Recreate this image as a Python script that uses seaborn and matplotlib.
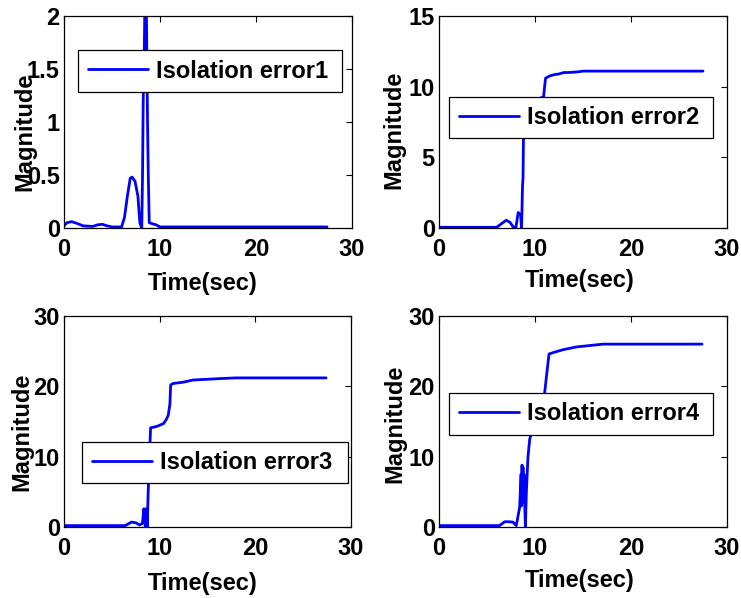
import numpy as np
import pandas as pd
import matplotlib
matplotlib.use("Agg")
import matplotlib.pyplot as plt
import seaborn as sns

# ---- data ----
t1 = [0, 0.3, 0.8, 1.3, 2.0, 3.0, 3.5, 4.0, 4.5, 5.0, 6.0, 6.3, 6.6, 6.9, 7.1, 7.4, 7.7, 7.9, 8.1,
      8.18, 8.25, 8.35, 8.5, 8.6, 8.7, 8.78, 8.88, 9.2, 9.6, 10.0, 15, 20, 27.4]
v1 = [0.02, 0.05, 0.06, 0.045, 0.02, 0.015, 0.03, 0.035, 0.02, 0.01, 0.01, 0.1, 0.3, 0.47, 0.48, 0.44,
      0.3, 0.05, 0.0, 0.5, 1.2, 1.6, 2.6, 1.9, 1.0, 0.5, 0.05, 0.04, 0.03, 0.01, 0.01, 0.01, 0.01]

t2 = [0, 3, 6.0, 6.5, 7.0, 7.4, 7.7, 8.0, 8.25, 8.5, 8.6, 8.7, 8.75, 8.8, 9.0, 10.0, 10.9, 11.0, 11.1,
      11.5, 12.0, 12.5, 13.0, 13.5, 14.5, 15.0, 20, 27.5]
v2 = [0.05, 0.05, 0.05, 0.3, 0.55, 0.4, 0.1, 0.0, 1.1, 0.9, 0.0, 3.0, 3.5, 6.5, 8.8, 9.0, 9.3, 10.0,
      10.6, 10.75, 10.85, 10.9, 11.0, 11.0, 11.05, 11.1, 11.1, 11.1]

t3 = [0, 3, 6.4, 6.8, 7.05, 7.5, 7.9, 8.2, 8.35, 8.5, 8.6, 8.7, 8.8, 9.05, 9.7, 10.4, 10.7, 10.9, 11.07,
      11.15, 11.4, 12.5, 13.5, 14.9, 16.3, 18, 27.4]
v3 = [0.2, 0.2, 0.2, 0.5, 0.7, 0.6, 0.3, 0.5, 2.6, 0.1, 2.6, 0.0, 5.0, 14.1, 14.3, 14.7, 15.3, 15.9,
      17.5, 20.2, 20.4, 20.6, 20.9, 21.0, 21.1, 21.2, 21.2]

t4 = [0, 3, 6.3, 6.6, 6.85, 7.2, 7.7, 8.05, 8.4, 8.55, 8.6, 8.65, 8.7, 8.75, 8.8, 8.85, 8.9, 9.0, 9.1,
      9.27, 9.45, 10.2, 11.0, 11.2, 11.46, 11.9, 12.9, 14.3, 15.7, 17.1, 27.4]
v4 = [0.2, 0.2, 0.2, 0.5, 0.75, 0.75, 0.7, 0.2, 2.8, 7.5, 3.0, 8.8, 4.0, 8.5, 3.5, 7.5, 4.5, 0.0, 5.0,
      10.0, 12.5, 16.0, 19.0, 21.5, 24.6, 24.8, 25.2, 25.6, 25.8, 26.0, 26.0]

series_labels = ["Isolation error1", "Isolation error2", "Isolation error3", "Isolation error4"]
x_ticks = [0, 10, 20, 30]
y_ticks = [[0, 0.5, 1, 1.5, 2], [0, 5, 10, 15], [0, 10, 20, 30], [0, 10, 20, 30]]
y_ticklabels = [["0", "0.5", "1", "1.5", "2"], ["0", "5", "10", "15"],
                ["0", "10", "20", "30"], ["0", "10", "20", "30"]]
x_label = "Time(sec)"
y_label = "Magnitude"

# ---- style ----
sns.set_theme(style="white")
plt.rcParams["font.family"] = ["Liberation Sans", "DejaVu Sans"]
plt.rcParams["font.weight"] = "bold"
plt.rcParams["axes.labelweight"] = "bold"
plt.rcParams["text.color"] = "black"
plt.rcParams["axes.labelcolor"] = "black"
plt.rcParams["xtick.color"] = "black"
plt.rcParams["ytick.color"] = "black"
plt.rcParams["xtick.labelcolor"] = "black"
plt.rcParams["ytick.labelcolor"] = "black"
FS = 17

fig = plt.figure(figsize=(7.41, 5.98), dpi=100)
rects = [
    (64 / 741, 1 - 228 / 598, 288 / 741, 212 / 598),
    (439 / 741, 1 - 228 / 598, 288 / 741, 212 / 598),
    (64 / 741, 1 - 527 / 598, 287 / 741, 211 / 598),
    (439 / 741, 1 - 527 / 598, 288 / 741, 211 / 598),
]
legend_boxes = [
    (0.049, 0.646, 0.916, 0.189),
    (0.035, 0.429, 0.916, 0.184),
    (0.063, 0.213, 0.927, 0.185),
    (0.035, 0.445, 0.916, 0.185),
]
ylabel_coords = [(-0.097, 0.453), (-0.118, 0.462), (-0.108, 0.45), (-0.115, 0.488)]
xlabel_coords = [(0.483, -0.208), (0.49, -0.193), (0.484, -0.213), (0.49, -0.199)]

data = [(t1, v1), (t2, v2), (t3, v3), (t4, v4)]

for i, (tt, vv) in enumerate(data):
    ax = fig.add_axes(rects[i])
    df = pd.DataFrame({"t": tt, "v": vv})
    sns.lineplot(data=df, x="t", y="v", ax=ax, color="#0000ff", linewidth=2.0,
                 estimator=None, sort=False, label=series_labels[i])
    ax.set_xlim(0, 30)
    ax.set_ylim(y_ticks[i][0], y_ticks[i][-1])
    ax.set_xticks(x_ticks)
    ax.set_xticklabels([str(v) for v in x_ticks], fontsize=FS, fontweight="bold", color="black")
    ax.set_yticks(y_ticks[i])
    ax.set_yticklabels(y_ticklabels[i], fontsize=FS, fontweight="bold", color="black")
    ax.tick_params(axis="both", direction="in", top=True, right=True, length=4,
                   width=0.8, colors="black")
    ax.tick_params(axis="x", pad=7)
    ax.tick_params(axis="y", pad=3)
    for sp in ax.spines.values():
        sp.set_color("black")
        sp.set_linewidth(0.9)
        sp.set_visible(True)
    ax.set_xlabel(x_label, fontsize=FS, fontweight="bold", color="black")
    ax.set_ylabel(y_label, fontsize=FS, fontweight="bold", color="black")
    ax.yaxis.set_label_coords(*ylabel_coords[i])
    ax.xaxis.set_label_coords(*xlabel_coords[i])
    ax.xaxis.label.set_va("top")
    leg = ax.legend(loc="center", bbox_to_anchor=legend_boxes[i], mode="expand",
                    borderaxespad=0, fancybox=False, framealpha=1, edgecolor="black",
                    prop={"size": FS, "weight": "bold"}, handlelength=2.55,
                    handletextpad=0.35, borderpad=0.4)
    for txt in leg.get_texts():
        txt.set_color("black")
    leg.get_frame().set_linewidth(0.9)
    ax.grid(False)

fig.savefig("out.png", dpi=100)
